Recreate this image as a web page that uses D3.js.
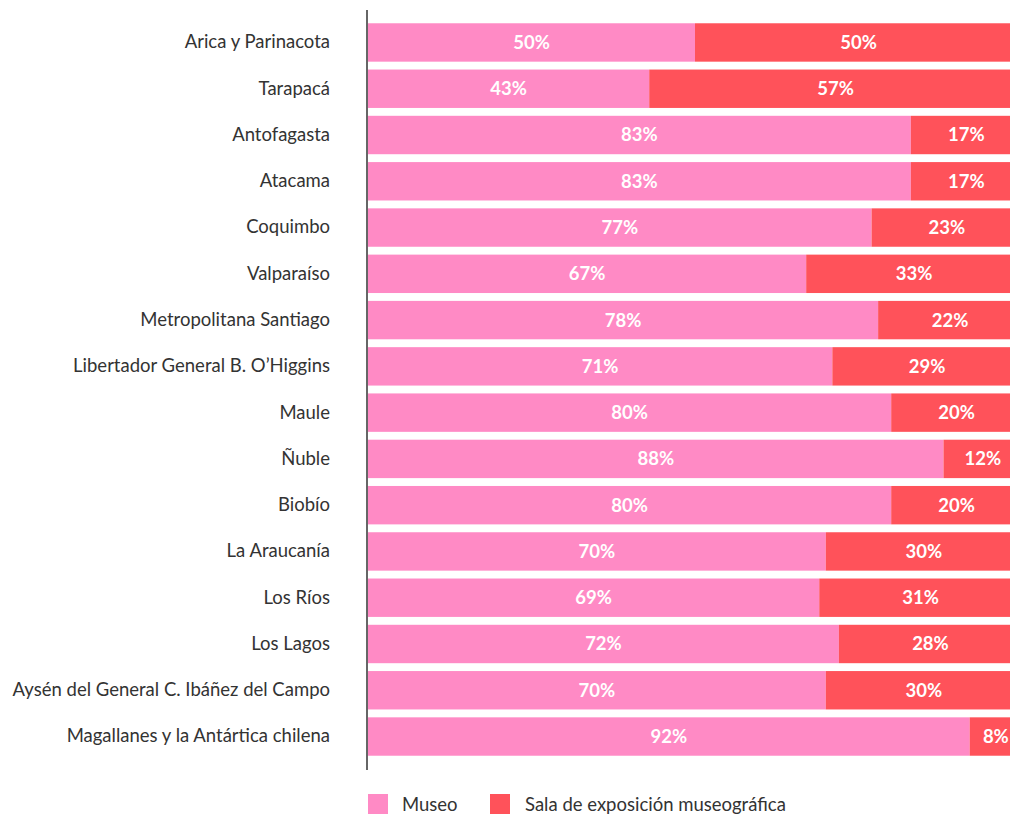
<!DOCTYPE html>
<html>
<head>
<meta charset="utf-8">
<script src="https://cdn.jsdelivr.net/npm/d3@7"></script>
<style>
  body { margin: 0; background: #fff; }
  svg { display: block; font-family: Lato, "Open Sans", sans-serif; }
</style>
</head>
<body>
<div id="chart"></div>
<script>
const width = 1010
const height = 815
const margin = ({top: 8, right: -12, bottom: 44, left: 368})

const regions = [
  "Arica y Parinacota",
  "Tarapacá",
  "Antofagasta",
  "Atacama",
  "Coquimbo",
  "Valparaíso",
  "Metropolitana Santiago",
  "Libertador General B. O’Higgins",
  "Maule",
  "Ñuble",
  "Biobío",
  "La Araucanía",
  "Los Ríos",
  "Los Lagos",
  "Aysén del General C. Ibáñez del Campo",
  "Magallanes y la Antártica chilena"
]
const museo = [50, 43, 83, 83, 77, 67, 78, 71, 80, 88, 80, 70, 69, 72, 70, 92]
const sala = [50, 57, 17, 17, 23, 33, 22, 29, 20, 12, 20, 30, 31, 28, 30, 8]

const seriesNames = ["Museo", "Sala de exposición museográfica"]
const colors = ["#ff8ac5", "#ff525a"]

const data = regions.map((r, i) => ({region: r, Museo: museo[i], "Sala de exposición museográfica": sala[i]}))
const stack = d3.stack().keys(seriesNames)(data)

const x = d3.scaleLinear()
  .domain([0, 100])
  .range([margin.left, width - margin.right])

const y = d3.scaleBand()
  .domain(regions)
  .range([margin.top, height - margin.bottom])
  .paddingInner(0.17)
  .paddingOuter(0.33)

const svg = d3.create("svg")
  .attr("width", width)
  .attr("height", height)
  .attr("viewBox", [0, 0, width, height])

d3.select("#chart").append(() => svg.node())

const layers = svg.append("g")
  .selectAll("g")
  .data(stack)
  .join("g")
    .attr("fill", (d, i) => colors[i])

layers.selectAll("rect")
  .data(d => d)
  .join("rect")
    .attr("x", d => x(d[0]))
    .attr("y", d => y(d.data.region))
    .attr("width", d => x(d[1]) - x(d[0]))
    .attr("height", y.bandwidth())

layers.selectAll("text")
  .data(d => d)
  .join("text")
    .attr("x", d => (x(d[0]) + x(d[1])) / 2)
    .attr("y", d => y(d.data.region) + y.bandwidth() / 2)
    .attr("dy", "0.35em")
    .attr("text-anchor", "middle")
    .attr("fill", "#fff")
    .attr("font-weight", "bold")
    .attr("font-size", "18.5px")
    .text(d => `${d[1] - d[0]}%`)

// left axis
svg.append("g")
    .attr("transform", `translate(${margin.left - 1},0)`)
    .call(d3.axisLeft(y).tickSize(0).tickPadding(37))
    .call(g => g.select(".domain").attr("stroke", "#333").attr("stroke-width", 1.5)
      .attr("d", `M0,${margin.top + 2}V${height - margin.bottom - 1}`))
    .call(g => g.selectAll("text")
      .attr("font-family", "Lato, sans-serif")
      .attr("font-size", "18.5px")
      .attr("fill", "#333"))

// legend
const legendX = [368, 490]
const legend = svg.append("g")
  .selectAll("g")
  .data(seriesNames)
  .join("g")
    .attr("transform", (d, i) => `translate(${legendX[i]},794)`)

legend.append("rect")
  .attr("width", 20)
  .attr("height", 20)
  .attr("fill", (d, i) => colors[i])

legend.append("text")
  .attr("x", (d, i) => i === 0 ? 34 : 35)
  .attr("y", 10)
  .attr("dy", "0.4em")
  .attr("font-size", "18.5px")
  .attr("fill", "#333")
  .text(d => d)
</script>
</body>
</html>
